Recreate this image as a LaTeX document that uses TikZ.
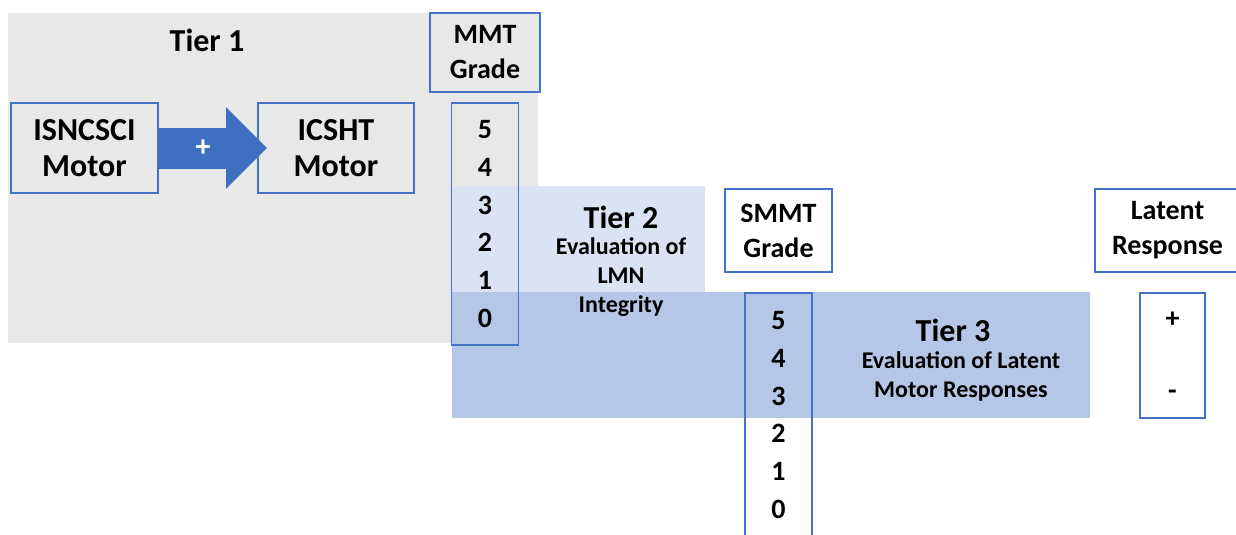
\documentclass[tikz,border=0pt]{standalone}
\usepackage{fontspec}
\setmainfont{Carlito}
\usetikzlibrary{arrows.meta, positioning}
\definecolor{colTierOne}{RGB}{232,232,232}
\definecolor{colTierTwo}{RGB}{218,227,243}
\definecolor{colTierThree}{RGB}{180,199,231}
\definecolor{colBorder}{RGB}{68,114,196}
\definecolor{colArrow}{RGB}{64,110,192}
\tikzset{
    tier/.style={rectangle, inner sep=0pt, outer sep=0pt},
    gradebox/.style={rectangle, draw=colBorder, line width=1.8pt, inner sep=0pt, outer sep=0pt,
        align=center, font=\bfseries\fontsize{28}{35}\selectfont},
    motorbox/.style={gradebox, minimum height=90pt, font=\bfseries\fontsize{32}{36}\selectfont},
    gradecol/.style={gradebox, minimum width=67pt, font=\bfseries\fontsize{28}{37.7}\selectfont},
    tiertitle/.style={inner sep=0pt, font=\bfseries\fontsize{32}{36}\selectfont},
    tiersub/.style={inner sep=0pt, align=center, font=\bfseries\fontsize{24}{29}\selectfont},
    fatarrow/.style={draw=colArrow, line width=41pt, -{Triangle[length=41pt, width=79pt]}, shorten >=-9pt}
}

\begin{document}
\begin{tikzpicture}[x=1pt, y=-1pt]
    \useasboundingbox (0,0) rectangle (1236,535);

    % tier backgrounds
    \node[tier, fill=colTierOne, minimum width=530pt, minimum height=330pt] (tierone) at (273,178) {};
    \node[tier, fill=colTierTwo, minimum width=253pt, minimum height=106pt] (tiertwo) at (578.5,239) {};
    \node[tier, fill=colTierThree, minimum width=638pt, minimum height=126pt] (tierthree) at (771,355) {};

    \node[tiertitle] (tieronelabel) at (207,40) {Tier 1};
    \node[tiertitle] (tiertwolabel) at (621,217) {Tier 2};
    \node[tiersub] (tiertwotext) at (621,277) {Evaluation of\\LMN\\Integrity};
    \node[tiertitle] (tierthreelabel) at (953,330) {Tier 3};
    \node[tiersub] (tierthreetext) at (961,376) {Evaluation of Latent\\Motor Responses};

    % tier 1 motor exams
    \node[motorbox, minimum width=147pt] (isncsci) at (84.5,148) {ISNCSCI\\Motor};
    \node[motorbox, minimum width=156pt, right=100pt of isncsci] (icsht) {ICSHT\\Motor};

    % grade scales
    \node[gradebox, minimum width=110pt, minimum height=79pt, fill=colTierOne] (mmtgrade) at (485,52.5) {MMT\\Grade};
    \node[gradecol, minimum height=242pt, below=11pt of mmtgrade] (mmtcol) {5\\4\\3\\2\\1\\0};
    \node[gradebox, minimum width=107pt, minimum height=83pt, fill=white] (smmtgrade) at (778.5,230.5) {SMMT\\Grade};
    \node[gradecol, minimum height=244pt, below=21pt of smmtgrade] (smmtcol) {5\\4\\3\\2\\1\\0};
    \node[gradebox, minimum width=145pt, minimum height=83pt, fill=white] (latent) at (1167.5,230.5) {Latent\\Response};
    \node[gradebox, minimum width=65pt, minimum height=125pt, fill=white, font=\bfseries\fontsize{28}{72}\selectfont] (latentsign) at (1172.5,355.5) {+\\-};

    \draw[fatarrow] (isncsci) -- (icsht) node[pos=0.45, text=white, font=\bfseries\fontsize{30}{35}\selectfont] (plus) {+};

\end{tikzpicture}
\end{document}
